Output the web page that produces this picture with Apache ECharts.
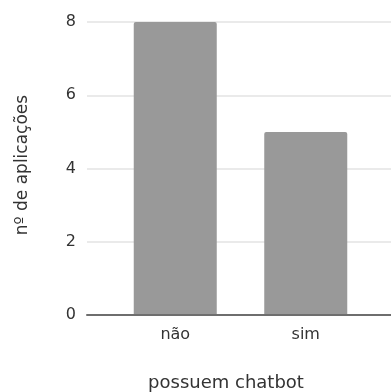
<!DOCTYPE html>
<html>
<head>
<meta charset="utf-8">
<script src="https://cdn.jsdelivr.net/npm/echarts@6/dist/echarts.min.js"></script>
<style>html,body{margin:0;padding:0;background:#fff}#c{width:391px;height:392px}</style>
</head>
<body>
<div id="c"></div>
<script>
var categories = ['não', 'sim'];
var values = [8, 5];
var xTitle = 'possuem chatbot';
var yTitle = 'nº de aplicações';
var yMin = 0, yMax = 8, yStep = 2;

var FONT = 'DejaVu Sans';
var chart = echarts.init(document.getElementById('c'), null, {renderer: 'canvas'});
chart.setOption({
  animation: false,
  backgroundColor: '#ffffff',
  grid: [
    {left: 87, right: 0, top: 22, bottom: 77},
    {left: 110, right: 20, top: 22, bottom: 77}
  ],
  xAxis: [
    {gridIndex: 0, type: 'value', min: 0, max: 1, z: 5,
     axisLine: {show: true, onZero: false, lineStyle: {color: '#6e6e6e', width: 2}},
     axisTick: {show: false}, axisLabel: {show: false}, splitLine: {show: false}},
    {gridIndex: 1, type: 'category', data: categories,
     axisLine: {show: false}, axisTick: {show: false},
     axisLabel: {color: '#333', fontFamily: FONT, fontSize: 16, margin: 12}}
  ],
  yAxis: [
    {gridIndex: 0, type: 'value', min: yMin, max: yMax, interval: yStep,
     axisLine: {show: false}, axisTick: {show: false},
     axisLabel: {color: '#333', fontFamily: FONT, fontSize: 16, margin: 11},
     splitLine: {lineStyle: {color: '#e3e3e3', width: 1.5}}},
    {gridIndex: 1, type: 'value', min: yMin, max: yMax, interval: yStep, show: false,
     splitLine: {show: false}}
  ],
  graphic: [
    {type: 'text', x: 226, y: 383, style: {text: xTitle, align: 'center', verticalAlign: 'middle',
      fill: '#333', font: '18px "DejaVu Sans"'}},
    {type: 'text', x: 23, y: 165, rotation: Math.PI / 2, style: {text: yTitle, align: 'center', verticalAlign: 'middle',
      fill: '#333', font: '17px "DejaVu Sans"'}}
  ],
  series: [{
    type: 'bar', xAxisIndex: 1, yAxisIndex: 1,
    data: values, barWidth: 83,
    itemStyle: {color: '#999999', borderRadius: [2, 2, 0, 0]}
  }]
});
</script>
</body>
</html>
